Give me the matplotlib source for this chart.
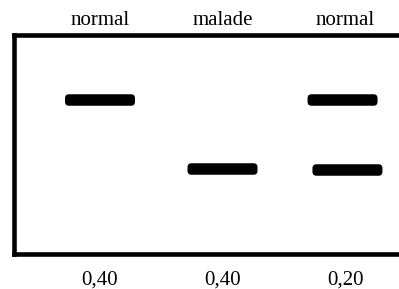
import matplotlib
matplotlib.use("Agg")
import matplotlib.pyplot as plt
from matplotlib.patches import FancyBboxPatch
from matplotlib.transforms import IdentityTransform

# Data
lanes = [0, 1, 2]
top_labels = ["normal", "malade", "normal"]
bottom_labels = ["0,40", "0,40", "0,20"]
band_lane = [0.0, 1.0, 1.98, 2.02]      # lane position of each band
band_dist = [65, 134, 65, 135]          # migration distance from top of gel

plt.rcParams['font.family'] = ['Liberation Serif', 'DejaVu Serif']

fig = plt.figure(figsize=(3.99, 2.89), dpi=100)
W, H = 399, 289
left_px, right_px, top_px, bot_px = 14, 399, 35, 253.5
ax = fig.add_axes([left_px / W, 1 - bot_px / H, (right_px - left_px) / W, (bot_px - top_px) / H])

lane_px = 122.5
x0 = -(100 - left_px) / lane_px
ax.set_xlim(x0, x0 + (right_px - left_px) / lane_px)
ax.set_ylim(bot_px - top_px, 0)

band_w_px, band_h_px = 70, 11.5
for xl, d in zip(band_lane, band_dist):
    cx, cy = ax.transData.transform((xl, d))
    p = FancyBboxPatch((cx - band_w_px / 2 + 3, cy - band_h_px / 2 + 3),
                       band_w_px - 6, band_h_px - 6,
                       boxstyle="round,pad=3,rounding_size=4",
                       transform=IdentityTransform(), facecolor='black',
                       edgecolor='none')
    fig.patches.append(p)
    p.set_figure(fig)

for s in ['left', 'top', 'bottom']:
    ax.spines[s].set_linewidth(3.3)
    ax.spines[s].set_color('black')
    ax.spines[s].set_capstyle('projecting')
ax.spines['right'].set_visible(False)

ax.set_yticks([])
ax.set_xticks(lanes)
ax.set_xticklabels(bottom_labels, fontsize=15)
ax.tick_params(axis='x', length=0, pad=12)

sec = ax.secondary_xaxis('top')
sec.set_xticks(lanes)
sec.set_xticklabels(top_labels, fontsize=15)
sec.tick_params(axis='x', length=0, pad=3.5)
sec.spines['top'].set_visible(False)

fig.savefig("out.png", dpi=100)
